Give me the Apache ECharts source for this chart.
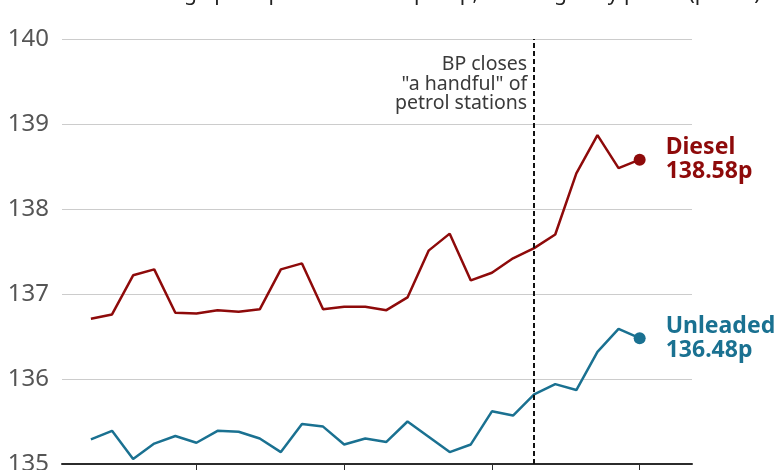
<!DOCTYPE html>
<html>
<head>
<meta charset="utf-8">
<script src="https://cdn.jsdelivr.net/npm/echarts@6/dist/echarts.min.js"></script>
<style>
html,body{margin:0;padding:0;background:#fff;}
#chart{width:780px;height:470px;}
</style>
</head>
<body>
<div id="chart"></div>
<script>
// Daily dates (Sept 2021)
const dates = ['2 Sep','3 Sep','4 Sep','5 Sep','6 Sep','7 Sep','8 Sep','9 Sep','10 Sep','11 Sep','12 Sep','13 Sep','14 Sep','15 Sep','16 Sep','17 Sep','18 Sep','19 Sep','20 Sep','21 Sep','22 Sep','23 Sep','24 Sep','25 Sep','26 Sep','27 Sep','28 Sep'];
const diesel = [136.71,136.76,137.22,137.29,136.78,136.77,136.81,136.79,136.82,137.29,137.36,136.82,136.85,136.85,136.81,136.96,137.51,137.71,137.16,137.25,137.42,137.54,137.70,138.42,138.87,138.48,138.58];
const unleaded = [135.29,135.39,135.06,135.24,135.33,135.25,135.39,135.38,135.30,135.14,135.47,135.44,135.23,135.30,135.26,135.50,135.32,135.14,135.23,135.62,135.57,135.82,135.94,135.87,136.32,136.59,136.48];
const tickDates = ['7 Sep','14 Sep','21 Sep','28 Sep'];
const eventDate = '23 Sep';
const eventText = 'BP closes\n"a handful" of\npetrol stations';
const titleText = 'Average price per litre at the pump, showing daily prices (pence)';
const yTicks = [135,136,137,138,139,140];

const FONT = '"Noto Sans", "Open Sans", sans-serif';
const RED = '#8e0a0a';
const BLUE = '#1a7191';

const idx = d => dates.indexOf(d);
const dieselPts = diesel.map((v,i)=>[i,v]);
const unleadedPts = unleaded.map((v,i)=>[i,v]);
const lastI = dates.length - 1;

const chart = echarts.init(document.getElementById('chart'), null, {renderer:'canvas'});
const option = {
  animation: false,
  backgroundColor: '#fff',
  textStyle: {fontFamily: FONT},
  grid: {left: 62, right: 88, top: 39, bottom: 6, containLabel: false, outerBoundsMode: 'none'},
  xAxis: {
    type: 'value',
    min: -1.37,
    max: lastI + 2.48,
    axisLine: {show: true, lineStyle: {color: '#2b2b2b', width: 2}},
    axisTick: {show: true, customValues: tickDates.map(idx), length: 9, lineStyle: {color: '#2b2b2b', width: 1}},
    axisLabel: {show: false},
    splitLine: {show: false}
  },
  yAxis: {
    type: 'value',
    min: yTicks[0],
    max: yTicks[yTicks.length-1],
    interval: 1,
    axisLine: {show: false},
    axisTick: {show: false},
    axisLabel: {color: '#555', fontSize: 24, margin: 13, fontFamily: FONT},
    splitLine: {lineStyle: {color: '#cccccc', width: 1}}
  },
  series: [
    {
      name: 'Diesel', type: 'line', data: dieselPts, showSymbol: false,
      lineStyle: {color: RED, width: 2.5}, itemStyle: {color: RED},
      endLabel: {
        show: true, distance: 26,
        formatter: () => '{a|Diesel}\n{a|' + diesel[lastI].toFixed(2) + 'p}',
        rich: {a: {color: RED, fontSize: 23, fontWeight: 'bold', lineHeight: 24, fontFamily: FONT}}
      },
      markLine: {
        silent: true, symbol: ['none','none'],
        lineStyle: {color: '#111', type: [5,3], width: 2},
        label: {show: false},
        data: [{xAxis: idx(eventDate)}]
      },
      z: 3
    },
    {
      name: 'Unleaded', type: 'line', data: unleadedPts, showSymbol: false,
      lineStyle: {color: BLUE, width: 2.5}, itemStyle: {color: BLUE},
      endLabel: {
        show: true, distance: 26,
        formatter: () => '{a|Unleaded}\n{a|' + unleaded[lastI].toFixed(2) + 'p}',
        rich: {a: {color: BLUE, fontSize: 23, fontWeight: 'bold', lineHeight: 24, fontFamily: FONT}}
      },
      z: 3
    },
    {
      type: 'scatter', symbolSize: 12, itemStyle: {color: RED, opacity: 1}, z: 4,
      data: [[lastI, diesel[lastI]]]
    },
    {
      type: 'scatter', symbolSize: 12, itemStyle: {color: BLUE, opacity: 1}, z: 4,
      data: [[lastI, unleaded[lastI]]]
    }
  ]
};
chart.setOption(option);

const ev = chart.convertToPixel({gridIndex: 0}, [idx(eventDate), yTicks[yTicks.length-1]]);
chart.setOption({
  graphic: [
    {
      type: 'text', x: ev[0] - 7, y: ev[1] + 16,
      style: {text: eventText, fill: '#3a3a3a', fontSize: 19.5, lineHeight: 19.5, align: 'right', verticalAlign: 'top', fontFamily: FONT}
    },
    {
      type: 'text', x: 128, y: -16,
      style: {text: titleText, fill: '#222', fontSize: 21, verticalAlign: 'top', fontFamily: FONT}
    }
  ]
});
</script>
</body>
</html>
